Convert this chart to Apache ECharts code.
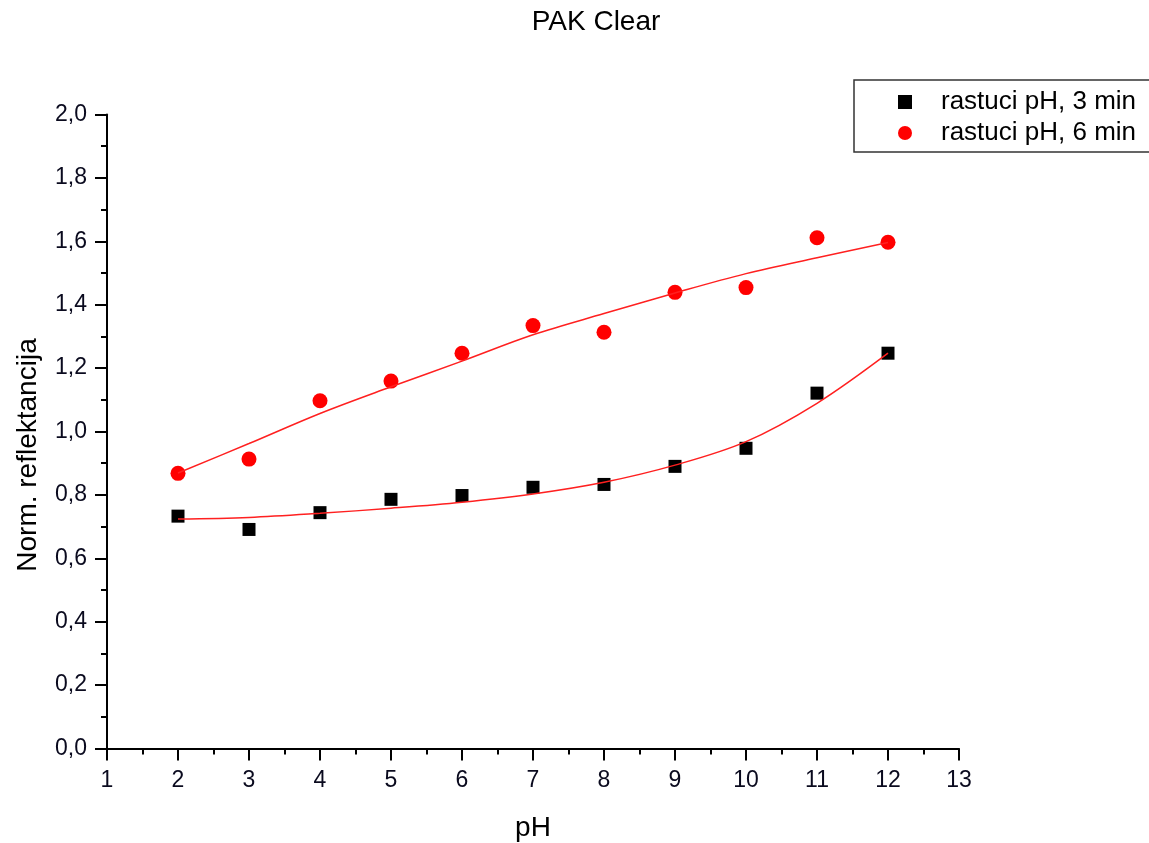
<!DOCTYPE html>
<html>
<head>
<meta charset="utf-8">
<script src="https://cdn.jsdelivr.net/npm/echarts@6/dist/echarts.min.js"></script>
<style>html,body{margin:0;padding:0;background:#fff;}#chart{width:1149px;height:843px;}</style>
</head>
<body>
<div id="chart"></div>
<script>
const titleText = 'PAK Clear';
const xTitle = 'pH';
const yTitle = 'Norm. reflektancija';
const seriesNames = ['rastuci pH, 3 min', 'rastuci pH, 6 min'];
const phValues = [2, 3, 4, 5, 6, 7, 8, 9, 10, 11, 12];
const refl3 = [0.733, 0.691, 0.744, 0.786, 0.798, 0.824, 0.833, 0.890, 0.947, 1.121, 1.247];
const refl6 = [0.868, 0.913, 1.097, 1.159, 1.247, 1.334, 1.313, 1.439, 1.454, 1.611, 1.597];
const fit3 = [0.724, 0.729, 0.742, 0.758, 0.777, 0.803, 0.840, 0.894, 0.968, 1.089, 1.247];
const fit6 = [0.869, 0.962, 1.057, 1.141, 1.222, 1.305, 1.372, 1.437, 1.498, 1.548, 1.596];

const pair = (xs, ys) => xs.map((x, i) => [x, ys[i]]);
const font = 'Liberation Sans, Arial, sans-serif';

const chart = echarts.init(document.getElementById('chart'), null, {renderer: 'canvas'});
chart.setOption({
  animation: false,
  backgroundColor: '#fff',
  grid: {left: 107, right: 190, top: 114.5, bottom: 94.5, containLabel: false},
  xAxis: {
    type: 'value', min: 1, max: 13, interval: 1,
    axisLine: {show: true, onZero: false, lineStyle: {color: '#000', width: 2}},
    axisTick: {show: true, inside: false, length: 12, lineStyle: {color: '#000', width: 2}},
    minorTick: {show: true, splitNumber: 2, length: 6, lineStyle: {color: '#000', width: 2}},
    axisLabel: {color: '#0a0a1e', fontSize: 23, fontFamily: font, margin: 21},
    splitLine: {show: false}
  },
  yAxis: {
    type: 'value', min: 0, max: 2, interval: 0.2,
    axisLine: {show: true, onZero: false, lineStyle: {color: '#000', width: 2}},
    axisTick: {show: true, inside: false, length: 12, lineStyle: {color: '#000', width: 2}},
    minorTick: {show: true, splitNumber: 2, length: 6, lineStyle: {color: '#000', width: 2}},
    axisLabel: {color: '#0a0a1e', fontSize: 23, fontFamily: font, margin: 20,
      formatter: v => v.toFixed(1).replace('.', ',')},
    splitLine: {show: false}
  },
  legend: {
    orient: 'vertical', left: 854, top: 80,
    data: [{name: seriesNames[0], icon: 'rect'}, {name: seriesNames[1], icon: 'circle'}],
    itemWidth: 14, itemHeight: 14, itemGap: 5,
    padding: [9, 30, 6, 44],
    borderColor: '#333', borderWidth: 1.5,
    textStyle: {color: '#000', fontSize: 26, fontFamily: font, padding: [0, 0, 0, 24]}
  },
  graphic: [
    {type: 'text', style: {text: titleText, x: 596, y: 22, align: 'center', verticalAlign: 'middle', fontSize: 28, fontFamily: font, fill: '#000'}},
    {type: 'text', style: {text: xTitle, x: 533, y: 828, align: 'center', verticalAlign: 'middle', fontSize: 28, fontFamily: font, fill: '#000'}},
    {type: 'text', x: 28, y: 455, rotation: Math.PI / 2, style: {text: yTitle, x: 0, y: 0, align: 'center', verticalAlign: 'middle', fontSize: 28, fontFamily: font, fill: '#000'}}
  ],
  series: [
    {name: 'fit3', type: 'line', data: pair(phValues, fit3), smooth: 0.35, showSymbol: false, z: 5,
      lineStyle: {color: '#ff2020', width: 1.5}, itemStyle: {color: '#ff2020'}, silent: true},
    {name: 'fit6', type: 'line', data: pair(phValues, fit6), smooth: 0.35, showSymbol: false, z: 5,
      lineStyle: {color: '#ff2020', width: 1.5}, itemStyle: {color: '#ff2020'}, silent: true},
    {name: seriesNames[0], type: 'scatter', data: pair(phValues, refl3), symbol: 'rect', symbolSize: 13, z: 3,
      itemStyle: {color: '#000', opacity: 1}},
    {name: seriesNames[1], type: 'scatter', data: pair(phValues, refl6), symbol: 'circle', symbolSize: 15, z: 3,
      itemStyle: {color: '#ff0000', opacity: 1}}
  ]
});
</script>
</body>
</html>
